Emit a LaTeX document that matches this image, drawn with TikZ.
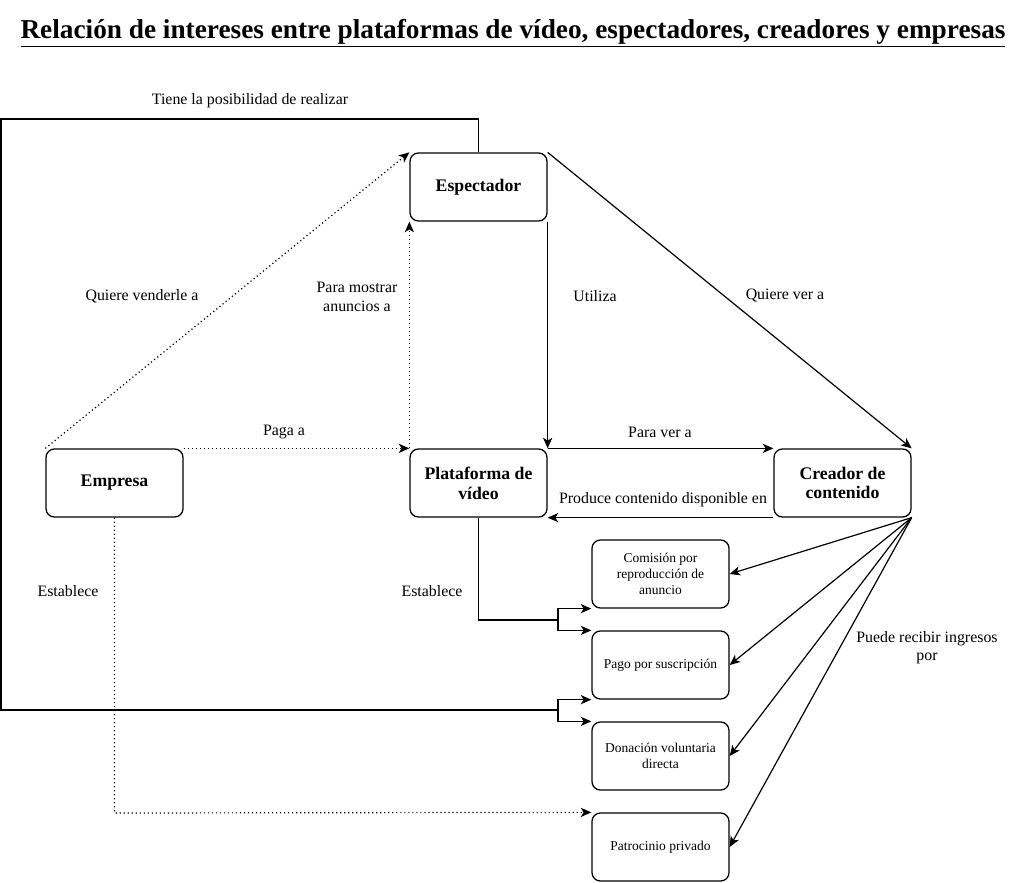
\documentclass[tikz,border=0pt]{standalone}
\usepackage{fontspec}
\setmainfont{Liberation Serif}
\usetikzlibrary{arrows.meta}

\tikzset{
    box/.style={draw, line width=0.9pt, rounded corners=6pt, minimum width=3.425cm, minimum height=1.7cm, align=center, font=\fontsize{12.6}{14}\selectfont\bfseries},
    small/.style={draw, line width=0.9pt, rounded corners=6pt, minimum width=3.425cm, minimum height=1.7cm, align=center, font=\fontsize{9.6}{11.5}\selectfont},
    lbl/.style={align=center, font=\fontsize{11.3}{13}\selectfont},
    link/.style={line width=0.85pt, -{Stealth[length=7.5pt,width=6.5pt,inset=2pt]}},
    ad/.style={link, dotted}
}

\begin{document}
\begin{tikzpicture}[x=0.025cm, y=-0.025cm]
    \useasboundingbox (0,0) rectangle (1024,882);

    \node[font=\fontsize{19.4}{22}\selectfont\bfseries] (titulo) at (513,33) {\underline{Relación de intereses entre plataformas de vídeo, espectadores, creadores y empresas}};

    \node[box] (espectador) at (478.5,187) {Espectador};
    \node[box] (plataforma) at (478.5,483) {Plataforma de\\vídeo};
    \node[box] (empresa) at (114.5,483) {Empresa};
    \node[box] (creador) at (842.5,483) {Creador de\\contenido};

    \node[small] (comision) at (660.5,574) {Comisión por\\reproducción de\\anuncio};
    \node[small] (pago) at (660.5,665) {Pago por suscripción};
    \node[small] (donacion) at (660.5,756) {Donación voluntaria\\directa};
    \node[small] (patrocinio) at (660.5,847) {Patrocinio privado};

    \coordinate (arriba) at (1,119);
    \coordinate (abajo) at (1,710);
    \coordinate (cruce1) at (558,620);
    \coordinate (cruce2) at (558,710);
    \coordinate (esquina) at (114.5,813);

    \draw[link] (espectador.south east) -- (plataforma.north east);
    \draw[link] (espectador.north east) -- (creador.north east);
    \draw[link] (plataforma.north east) -- (creador.north west);
    \draw[link] (creador.south west) -- (plataforma.south east);

    \draw[ad] (empresa.north east) -- (plataforma.north west);
    \draw[ad] (empresa.north west) -- (espectador.north west);
    \draw[ad] (plataforma.north west) -- (espectador.south west);
    \draw[ad] (empresa.south) -- (esquina) -- (patrocinio.north west);

    \draw[line width=0.85pt] (plataforma.south) |- (cruce1);
    \draw[link] (cruce1) |- (comision.south west);
    \draw[link] (cruce1) |- (pago.north west);

    \draw[line width=0.85pt] (espectador.north) |- (arriba) -- (abajo) -- (cruce2);
    \draw[link] (cruce2) |- (pago.south west);
    \draw[link] (cruce2) |- (donacion.north west);

    \foreach \b in {comision, pago, donacion, patrocinio}
        \draw[link] (creador.south east) -- (\b.east);

    \node[lbl] (l1) at (250,101) {Tiene la posibilidad de realizar};
    \node[lbl] (l2) at (142,296) {Quiere venderle a};
    \node[lbl] (l3) at (357,297) {Para mostrar\\anuncios a};
    \node[lbl] (l4) at (595,296) {Utiliza};
    \node[lbl] (l5) at (785,296) {Quiere ver a};
    \node[lbl] (l6) at (284,432) {Paga a};
    \node[lbl] (l7) at (660,432) {Para ver a};
    \node[lbl] (l8) at (663,500) {Produce contenido disponible en};
    \node[lbl] (l9) at (68,591) {Establece};
    \node[lbl] (l10) at (432,591) {Establece};
    \node[lbl] (l11) at (927,648) {Puede recibir ingresos\\por};
\end{tikzpicture}
\end{document}
